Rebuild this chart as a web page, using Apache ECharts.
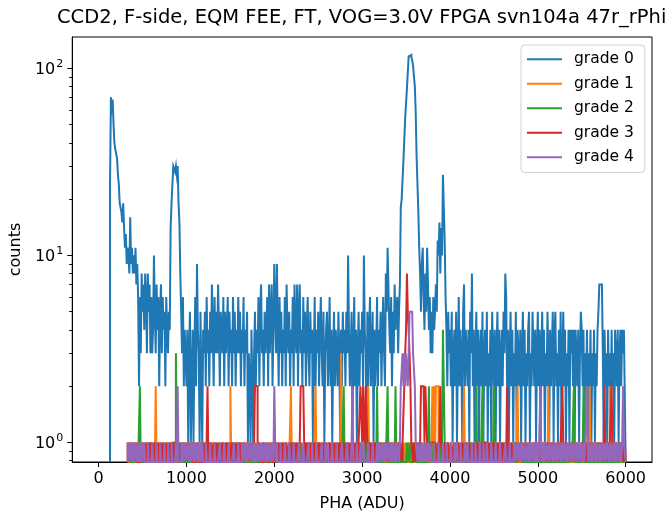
<!DOCTYPE html>
<html>
<head>
<meta charset="utf-8">
<script src="https://cdn.jsdelivr.net/npm/echarts@6/dist/echarts.min.js"></script>
<style>
html,body{margin:0;padding:0;background:#fff;}
#chart{width:669px;height:517px;}
</style>
</head>
<body>
<div id="chart"></div>
<script>
// ---- data: histogram counts per 10-ADU bin, starting at 0 ADU (600 bins) ----
const BIN_WIDTH = 10;
const BIN_START = 0;
const seriesNames = ['grade 0', 'grade 1', 'grade 2', 'grade 3', 'grade 4'];
const xTickValues = [0, 1000, 2000, 3000, 4000, 5000, 6000];
const yMajorTicks = [1, 10, 100];
const yMinorTicks = [0.8, 0.9, 2, 3, 4, 5, 6, 7, 8, 9, 20, 30, 40, 50, 60, 70, 80, 90];

const grade0 = [
  0,0,0,0,0,0,0,0,0,0,0,0,0,24,70,62,68,50,40,37,
  37,33,27,24,19,18,17,15,19,14,11,13,9,11,10,8,16,9,11,8,
  10,8,11,7,9,6,2,6,3,8,5,7,4,8,6,3,8,5,7,3,
  6,3,4,10,5,3,7,4,6,2,5,7,3,6,4,5,2,6,4,3,
  5,4,14,19,19,30,30,28,30,27,30,19,15,8,5,3,6,2,4,3,
  2,4,1,3,5,1,2,4,1,3,6,2,9,4,3,1,5,2,1,4,
  3,5,2,6,3,4,2,5,3,7,4,2,6,3,5,3,7,4,2,5,
  4,3,6,2,5,3,4,6,2,5,3,4,2,6,3,5,2,4,3,6,
  3,5,2,4,3,6,2,4,3,5,1,3,2,1,4,2,1,3,5,2,
  4,3,6,2,5,7,3,4,2,5,3,4,6,2,7,3,5,7,2,4,
  9,5,3,9,4,2,6,3,5,2,4,3,6,2,7,4,3,5,2,4,
  3,6,2,7,4,3,7,2,5,7,3,4,2,6,3,5,2,4,6,3,
  2,5,3,4,1,3,6,2,4,3,5,2,4,6,3,2,5,1,3,4,
  5,2,3,6,2,4,1,3,5,2,4,3,2,5,3,1,4,2,5,3,
  4,2,5,3,10,4,2,3,5,1,3,6,2,4,1,3,5,2,4,3,
  5,2,10,4,3,1,5,2,4,6,2,3,5,1,4,2,3,6,2,4,
  3,5,2,4,6,3,2,8,5,11,11,4,3,6,2,5,3,7,4,5,
  6,3,5,7,18,20,20,32,32,54,54,78,78,116,116,118,115,110,103,103,
  80,58,34,34,17,11,8,5,9,11,6,4,8,5,11,7,4,6,3,5,
  3,6,4,5,7,5,12,10,15,8,14,10,27,27,12,6,4,2,5,3,
  4,2,5,1,3,4,2,5,1,3,6,2,4,3,1,5,7,2,4,3,
  2,4,1,5,3,8,2,4,1,3,5,2,4,1,3,4,2,5,1,3,
  4,2,5,1,3,2,4,1,5,3,2,4,1,3,5,2,4,1,3,4,
  2,5,3,8,6,2,4,1,3,5,2,4,1,3,2,5,1,4,3,2,
  4,1,3,5,2,4,1,3,2,4,5,1,3,2,5,5,2,4,1,3,
  5,2,4,1,3,5,2,4,1,3,2,5,3,1,4,2,3,5,1,4,
  5,2,3,1,4,2,5,1,3,5,2,4,1,3,2,4,1,4,3,4,
  2,4,1,4,3,2,4,1,3,5,4,2,4,1,3,2,4,1,3,2,
  4,1,3,2,4,1,3,2,4,5,7,7,7,7,3,1,4,2,3,1,
  4,2,3,1,4,2,3,1,4,3,2,4,1,3,4,2,4,3,4,4
];
const grade1 = [
  0,0,0,0,0,0,0,0,0,0,0,0,0,0,0,0,0,0,0,0,
  0,0,0,0,0,0,0,0,0,0,0,0,0,1,0,0,0,0,1,0,
  0,0,1,0,0,0,1,0,0,0,0,1,0,0,0,0,1,0,0,1,
  0,0,0,1,0,2,0,0,0,1,0,0,1,0,0,0,0,1,0,0,
  1,0,0,0,1,0,0,0,0,1,0,0,0,1,0,0,1,0,0,0,
  0,1,0,0,0,1,0,0,1,0,0,0,0,1,0,0,0,1,0,0,
  1,0,0,0,0,1,0,0,0,1,0,0,1,0,0,0,0,1,0,0,
  0,0,1,0,0,0,1,0,0,0,2,0,0,0,1,0,0,0,1,0,
  0,1,0,0,0,0,1,0,0,1,0,0,0,0,1,0,0,0,0,1,
  0,0,1,0,0,0,0,1,0,0,0,1,0,0,0,0,1,0,0,0,
  1,0,0,0,1,0,0,0,0,1,0,0,0,1,0,0,0,0,0,2,
  0,0,1,0,0,0,1,0,0,0,0,1,0,0,0,1,0,0,1,0,
  0,1,0,0,0,0,0,2,0,0,1,0,0,0,1,0,0,0,0,1,
  0,0,1,0,0,0,1,0,0,0,0,1,0,0,0,1,3,0,0,0,
  1,0,0,0,1,0,0,0,0,1,0,0,0,1,0,0,0,0,1,0,
  0,1,0,0,0,0,1,2,0,0,0,1,0,0,0,0,1,0,0,0,
  1,0,0,0,1,0,0,0,0,1,0,0,1,0,0,0,0,1,0,0,
  0,0,1,0,0,0,1,0,0,1,0,0,0,1,0,0,1,0,0,0,
  1,0,0,0,1,0,0,0,1,0,0,0,1,0,0,1,0,0,0,1,
  2,1,2,0,2,2,2,1,0,0,1,0,0,0,1,0,0,1,0,0,
  0,1,0,0,0,1,0,0,0,0,1,0,0,0,0,1,2,0,0,0,
  1,0,0,0,1,0,0,0,0,1,0,0,0,0,1,0,0,0,1,0,
  0,0,1,0,0,0,0,1,0,0,0,1,0,0,0,0,1,0,0,0,
  1,0,0,0,0,1,0,0,0,1,0,0,0,0,1,0,0,2,0,0,
  0,1,0,0,0,1,0,0,0,0,1,0,0,0,1,0,0,0,0,1,
  0,0,1,0,0,0,0,1,0,0,0,0,2,0,0,0,1,0,0,0,
  1,0,0,0,1,0,0,0,0,1,0,0,0,1,0,0,0,0,1,0,
  0,0,1,0,0,0,1,0,0,0,0,1,0,0,0,1,0,0,0,2,
  0,1,0,0,0,1,0,0,0,0,1,0,0,0,1,0,0,0,1,0,
  0,0,2,0,0,1,0,0,0,1,0,0,0,1,0,0,0,1,0,1
];
const grade2 = [
  0,0,0,0,0,0,0,0,0,0,0,0,0,0,0,0,0,0,0,0,
  0,0,0,0,0,0,0,0,0,0,0,0,0,0,0,1,0,0,0,0,
  0,1,0,0,0,0,0,2,0,0,0,0,1,0,0,0,0,1,0,0,
  1,0,0,0,0,0,1,0,0,0,0,1,0,0,0,0,1,0,0,0,
  0,0,1,0,0,1,1,1,3,1,0,0,0,0,1,0,0,0,0,1,
  0,0,0,1,0,0,0,0,1,0,0,0,0,0,1,0,0,0,1,0,
  0,0,1,0,0,0,0,1,0,0,0,0,0,1,0,0,0,1,0,0,
  0,1,0,0,0,0,1,0,0,0,0,0,1,0,0,0,0,1,0,0,
  1,0,0,0,0,1,0,0,0,0,0,1,0,0,0,0,1,0,0,0,
  0,0,0,1,0,0,0,0,1,0,0,0,0,0,1,0,0,0,0,1,
  0,0,1,0,0,0,0,0,1,0,0,0,0,1,0,0,0,0,0,1,
  0,0,0,0,1,0,0,0,0,0,1,0,0,0,0,1,0,0,0,0,
  1,0,0,0,0,1,0,0,0,0,0,1,0,0,0,0,1,0,0,0,
  0,0,1,0,0,0,0,1,0,0,0,0,0,1,0,0,0,0,0,2,
  0,0,0,1,0,0,0,0,1,0,0,0,0,0,1,0,0,0,1,0,
  0,0,0,0,1,0,0,0,0,1,0,0,0,0,0,1,0,2,0,0,
  0,1,0,0,0,0,1,0,0,2,0,0,0,1,0,0,0,0,2,0,
  0,0,1,0,0,0,1,0,0,0,0,1,0,0,1,0,0,0,1,0,
  0,1,0,0,0,0,1,0,0,0,0,1,0,0,0,0,2,0,0,1,
  0,0,0,1,0,0,1,0,0,1,0,1,4,4,1,0,0,1,0,0,
  0,1,0,0,0,0,1,0,0,0,1,0,0,0,0,1,0,0,0,1,
  0,0,0,1,0,0,0,0,1,0,2,0,0,0,1,0,0,2,0,0,
  1,0,0,0,0,1,0,0,0,0,2,0,0,0,1,0,0,0,0,1,
  0,0,1,0,0,0,0,1,0,0,0,0,1,0,0,0,0,0,1,0,
  0,1,0,0,0,0,1,0,0,0,0,1,0,0,0,0,1,0,0,0,
  1,0,0,0,0,1,0,0,0,0,0,1,0,0,0,0,1,0,0,0,
  0,0,1,0,0,0,0,1,0,0,0,0,1,0,0,0,0,0,1,0,
  0,2,0,0,0,1,0,0,0,0,1,0,2,0,0,0,1,0,0,0,
  0,0,1,0,0,0,0,1,0,0,0,1,0,0,0,0,1,0,0,0,
  1,0,0,0,1,0,0,0,0,1,0,0,0,1,0,0,1,0,0,0
];
const grade3 = [
  0,0,0,0,0,0,0,0,0,0,0,0,0,0,0,0,0,0,0,0,
  0,0,0,0,0,0,0,0,0,0,0,0,0,0,1,0,0,1,0,0,
  1,0,0,1,0,0,0,1,0,0,1,0,0,1,0,1,0,1,0,1,
  0,1,0,1,1,0,1,0,1,0,1,1,0,1,0,1,0,0,1,0,
  1,0,1,0,1,0,0,1,0,1,1,0,1,0,0,1,0,1,0,0,
  1,0,0,1,0,0,1,0,0,0,1,0,0,1,0,0,0,1,0,1,
  0,1,0,1,2,0,1,0,1,1,0,1,0,1,0,1,1,0,1,0,
  1,0,1,1,0,1,0,1,0,1,1,0,1,0,1,0,1,1,0,1,
  0,1,0,1,0,0,1,0,0,1,0,0,1,0,0,1,0,1,2,2,
  2,0,0,1,0,0,0,1,0,0,1,0,0,0,1,0,0,1,0,0,
  0,1,0,0,1,0,1,1,0,1,0,1,0,1,1,0,1,0,1,0,
  1,0,1,1,0,1,0,1,0,1,2,2,2,2,1,0,1,0,1,1,
  0,1,0,1,0,1,1,0,1,0,1,0,1,1,0,1,0,1,0,1,
  1,0,1,0,1,1,0,1,0,1,0,1,1,0,1,0,1,0,1,1,
  0,1,0,1,0,1,0,1,1,0,1,0,1,0,1,0,1,1,2,2,
  1,2,2,0,2,2,1,0,1,0,1,1,0,1,0,1,0,1,0,1,
  1,0,1,0,0,1,0,1,0,1,0,0,1,0,1,0,1,0,0,1,
  0,1,0,1,1,0,1,1,2,3,4,8,5,4,3,2,1,1,0,1,
  1,0,1,0,1,0,1,2,2,2,2,1,2,2,1,0,1,1,0,1,
  1,1,0,1,1,0,1,0,1,2,1,1,0,1,1,0,1,0,1,1,
  0,1,1,0,1,1,0,1,0,1,1,0,1,0,1,1,0,1,0,1,
  1,0,1,1,0,1,0,1,1,0,1,0,1,1,0,1,0,1,0,1,
  1,1,0,1,0,1,1,0,1,0,1,1,0,1,0,1,1,0,1,0,
  1,0,1,1,0,2,1,0,1,0,1,1,0,1,0,1,0,1,1,0,
  1,0,1,0,1,1,0,1,0,1,0,1,1,0,1,0,1,0,1,1,
  0,1,0,1,0,1,1,0,1,0,1,0,1,0,1,1,0,1,0,1,
  1,0,1,0,1,0,1,1,2,1,0,1,0,1,0,0,1,0,1,0,
  0,1,0,0,1,0,1,0,0,1,0,1,0,0,1,0,1,0,0,1,
  0,1,0,1,0,0,1,0,1,0,1,0,1,1,0,1,2,0,1,0,
  1,0,1,1,2,1,0,1,0,1,1,0,1,0,1,1,0,1,0,1
];
const grade4 = [
  0,0,0,0,0,0,0,0,0,0,0,0,0,0,0,0,0,0,0,0,
  0,0,0,0,0,0,0,0,0,0,0,0,0,1,0,1,1,0,1,0,
  1,0,1,1,0,1,0,1,0,1,0,0,1,0,0,0,1,0,0,0,
  0,1,0,0,0,0,1,0,0,0,1,0,0,0,0,1,0,0,0,1,
  0,0,0,1,0,0,0,0,1,0,2,0,0,0,1,0,1,0,1,1,
  0,1,1,0,1,0,1,1,0,1,0,1,1,0,1,0,1,0,1,0,
  0,0,1,0,0,0,0,1,0,0,0,0,1,0,0,0,0,0,1,0,
  0,0,0,1,0,0,0,0,1,0,0,0,0,0,1,0,0,0,0,1,
  0,0,0,1,0,1,1,0,1,0,1,1,0,1,1,0,1,0,1,1,
  0,1,1,0,1,0,1,1,0,1,1,0,1,0,1,1,0,1,1,0,
  2,1,0,1,0,0,0,1,0,0,0,0,1,0,0,0,0,1,0,0,
  0,0,1,0,0,0,0,0,1,0,0,0,0,1,0,0,0,0,0,1,
  0,0,0,1,0,0,0,0,1,0,0,0,0,0,1,0,0,0,1,0,
  0,1,0,0,0,0,1,0,0,0,0,1,0,0,0,0,0,1,0,0,
  0,0,0,1,0,0,0,0,1,2,0,0,0,0,1,0,0,0,0,1,
  0,0,1,0,0,0,0,1,0,0,0,0,1,0,0,0,0,1,0,1,
  1,0,1,1,0,1,0,1,1,0,1,1,0,1,0,1,1,0,1,0,
  1,1,0,1,2,2,3,2,3,2,3,3,2,3,5,5,5,5,3,3,
  2,1,1,0,1,1,0,1,0,1,1,0,1,1,0,1,0,0,1,0,
  0,0,1,0,0,0,0,1,0,0,0,0,1,0,0,0,1,0,0,0,
  0,1,0,0,0,1,0,0,1,0,0,0,1,0,0,0,0,1,0,0,
  1,0,0,0,0,1,0,0,0,1,0,0,0,0,1,0,0,0,1,0,
  0,0,1,0,0,0,0,1,0,0,0,0,1,0,0,0,0,1,0,0,
  0,0,0,1,0,0,0,0,1,0,0,0,0,1,0,0,1,0,1,1,
  0,1,0,1,1,0,1,0,0,1,0,1,0,0,1,0,1,0,1,0,
  1,0,0,2,0,1,0,1,0,0,1,0,0,1,0,0,1,0,0,1,
  0,0,1,0,0,1,0,0,1,0,1,1,0,1,0,1,1,0,1,1,
  0,1,1,0,1,0,1,1,0,1,1,0,1,0,1,1,2,0,1,1,
  0,1,0,1,1,0,1,0,1,1,0,1,0,0,1,0,0,1,0,1,
  1,0,1,0,1,1,0,1,0,1,0,1,1,0,1,0,1,2,1,1
];
const allGrades = [grade0, grade1, grade2, grade3, grade4];
const colors = ['#1f77b4', '#ff7f0e', '#2ca02c', '#d62728', '#9467bd'];

// ---- build step outline (matplotlib histtype='step'); empty bins drop to the bottom of the log axis ----
const Y_MIN = 0.787, Y_MAX = 147;
const FLOOR = Y_MIN;
function toSteps(counts) {
  let first = counts.findIndex(c => c > 0);
  if (first < 0) first = 0;
  const pts = [[BIN_START + first * BIN_WIDTH, FLOOR]];
  for (let i = first; i < counts.length; i++) {
    const v = counts[i] > 0 ? counts[i] : FLOOR;
    pts.push([BIN_START + i * BIN_WIDTH, v]);
    pts.push([BIN_START + (i + 1) * BIN_WIDTH, v]);
  }
  pts.push([BIN_START + counts.length * BIN_WIDTH, FLOOR]);
  return pts;
}

const FONT = 'DejaVu Sans';
const chart = echarts.init(document.getElementById('chart'), null, {renderer: 'canvas'});
const option = {
  animation: false,
  backgroundColor: '#fff',
  title: {
    text: 'CCD2, F-side, EQM FEE, FT, VOG=3.0V FPGA svn104a 47r_rPhi',
    left: 57,
    top: 8,
    padding: 0,
    textStyle: {fontFamily: FONT, fontSize: 19.5, fontWeight: 'normal', color: '#000'}
  },
  grid: {
    left: 72, right: 17, top: 37, bottom: 49,
    show: true, borderColor: '#000', borderWidth: 1, backgroundColor: 'transparent'
  },
  legend: {
    orient: 'vertical',
    left: 521, top: 45,
    padding: [5, 11, 6, 6],
    icon: 'rect',
    itemWidth: 35, itemHeight: 2, itemGap: 6,
    backgroundColor: '#fff',
    borderColor: '#d0d0d0', borderWidth: 1, borderRadius: 4,
    textStyle: {fontFamily: FONT, fontSize: 15.5, color: '#000', padding: [0, 0, 0, 7], lineHeight: 18.5},
    data: seriesNames
  },
  xAxis: {
    type: 'value', min: -300, max: 6300,
    name: 'PHA (ADU)', nameLocation: 'middle', nameGap: 34,
    nameTextStyle: {fontFamily: FONT, fontSize: 16, color: '#000'},
    axisLine: {show: true, onZero: false, lineStyle: {color: '#000', width: 1}},
    splitLine: {show: false},
    axisTick: {show: true, length: 5, inside: false, lineStyle: {color: '#000', width: 1}, customValues: xTickValues},
    axisLabel: {customValues: xTickValues, formatter: v => String(v), fontFamily: FONT, fontSize: 16, color: '#000', margin: 9}
  },
  yAxis: [{
    type: 'log', logBase: 10, min: Y_MIN, max: Y_MAX,
    name: 'counts', nameLocation: 'middle', nameGap: 43,
    nameTextStyle: {fontFamily: FONT, fontSize: 16, color: '#000'},
    axisLine: {show: true, onZero: false, lineStyle: {color: '#000', width: 1}},
    splitLine: {show: false},
    minorTick: {show: false},
    axisTick: {show: true, length: 5, lineStyle: {color: '#000', width: 1}, customValues: yMajorTicks},
    axisLabel: {
      customValues: yMajorTicks, margin: 9,
      formatter: v => '{b|10}{s|' + Math.round(Math.log10(v)) + '}',
      rich: {
        b: {fontFamily: FONT, fontSize: 16, color: '#000', verticalAlign: 'bottom'},
        s: {fontFamily: FONT, fontSize: 11, color: '#000', verticalAlign: 'top', padding: [0, 0, 8, 1]}
      }
    }
  }, {
    type: 'log', logBase: 10, min: Y_MIN, max: Y_MAX, position: 'left', offset: 0,
    axisLine: {show: false, onZero: false}, splitLine: {show: false},
    axisTick: {show: true, length: 3, lineStyle: {color: '#000', width: 1}, customValues: yMinorTicks},
    axisLabel: {show: false}
  }],
  series: allGrades.map((g, k) => ({
    name: seriesNames[k],
    type: 'line',
    yAxisIndex: 0,
    data: toSteps(g),
    symbol: 'none',
    showSymbol: false,
    clip: true,
    color: colors[k],
    lineStyle: {color: colors[k], width: 2, join: 'miter', cap: 'butt'},
    z: 2 + k
  }))
};
chart.setOption(option);
</script>
</body>
</html>
